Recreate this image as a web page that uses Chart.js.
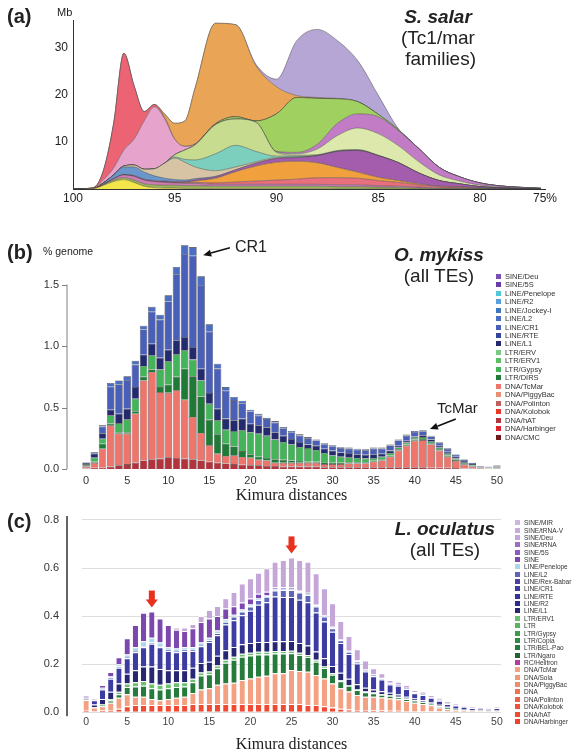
<!DOCTYPE html>
<html>
<head>
<meta charset="utf-8">
<script src="https://cdn.jsdelivr.net/npm/chart.js"></script>
<style>
  body { margin: 0; background: #fff; font-family: 'Liberation Sans', Arial, sans-serif; color: #222; }
  #page { position: relative; width: 575px; height: 754px; overflow: hidden; }
  canvas { position: absolute; left: 0; }
  .t { position: absolute; white-space: nowrap; line-height: 1; }
  .lab { font-weight: bold; font-size: 20px; }
  .sp { position: absolute; width: 160px; text-align: center; font-size: 19px; line-height: 21px; }
  .sp b { font-style: italic; }
  .leg { position: absolute; color: #333; }
  .leg div { display: flex; align-items: center; white-space: nowrap; }
  .leg span { display: inline-block; flex: none; margin-right: 4px; }
</style>
</head>
<body>
<div id="page">
  <canvas id="ca" width="575" height="205" style="top:0"></canvas>
  <canvas id="cb" width="575" height="300" style="top:205px"></canvas>
  <canvas id="cc" width="575" height="249" style="top:505px"></canvas>

  <div class="t lab" style="left:7px;top:6px">(a)</div>
  <div class="t" style="left:57px;top:7px;font-size:11px">Mb</div>
  <div class="sp" style="left:358px;top:6px"><b>S. salar</b><br>(Tc1/mar<br>&nbsp;families)</div>

  <div class="t lab" style="left:7px;top:242px">(b)</div>
  <div class="t" style="left:43px;top:246px;font-size:10.5px">% genome</div>
  <div class="t" style="left:235px;top:239px;font-size:16px">CR1</div>
  <div class="t" style="left:437px;top:400px;font-size:15px">TcMar</div>
  <div class="sp" style="left:359px;top:244px"><b>O. mykiss</b><br>(all TEs)</div>
  <div class="leg" id="legb" style="left:496px;top:272px"></div>

  <div class="t lab" style="left:7px;top:511px">(c)</div>
  <div class="sp" style="left:365px;top:518px"><b>L. oculatus</b><br>(all TEs)</div>
  <div class="leg" id="legc" style="left:515px;top:519px"></div>
</div>

<script>
Chart.defaults.font.family = "'Liberation Sans', Arial, sans-serif";

// ---- panel (a): S. salar Tc1/mar families, stacked landscape (Mb) ----
const aDist = [100, 99, 98.5, 98, 97.5, 97, 96.5, 96, 95.5, 95, 94.5, 94, 93, 92, 91, 90, 89, 88, 87, 86, 85, 84, 83, 82, 81, 80, 79, 78, 77];
const aTicks = [100, 95, 90, 85, 80, 76.8];
const aTickLabels = ['100', '95', '90', '85', '80', '75%'];

const aYellow  = [0, 0.1, 0.8, 1.6, 2, 1.4, 0.6, 0.3, 0.2, 0.2, 0.1, 0.1, 0.1, 0.1, 0.1, 0.1, 0.1, 0.1, 0, 0, 0, 0, 0, 0, 0, 0, 0, 0, 0];
const aOlive   = [0, 0, 0.1, 0.3, 0.4, 0.5, 0.5, 0.6, 0.6, 0.6, 0.6, 0.6, 0.5, 0.5, 0.5, 0.5, 0.5, 0.5, 0.5, 0.5, 0.4, 0.3, 0.2, 0.1, 0.1, 0.1, 0, 0, 0];
const aRose    = [0, 0, 0.1, 0.3, 0.6, 0.8, 0.8, 0.7, 0.6, 0.5, 0.5, 0.5, 0.4, 0.4, 0.4, 0.4, 0.4, 0.4, 0.4, 0.4, 0.3, 0.3, 0.2, 0.1, 0.1, 0, 0, 0, 0];
const aSalmon  = [0, 0, 0, 0, 0, 0, 0, 0, 0.1, 0.1, 0.1, 0.2, 0.3, 0.5, 0.7, 0.9, 1.1, 1.4, 1.5, 1.4, 1.1, 0.8, 0.5, 0.3, 0.2, 0.1, 0.05, 0, 0];
const aOrangeS = [0, 0, 0, 0, 0, 0, 0, 0, 0, 0, 0.1, 0.3, 1, 2.2, 3.2, 3.8, 3.8, 3.2, 2.2, 1.3, 0.7, 0.4, 0.2, 0.1, 0.1, 0, 0, 0, 0];
const aDkMag   = [0, 0, 0, 0, 0.1, 0.2, 0.2, 0.2, 0.2, 0.2, 0.2, 0.3, 0.3, 0.4, 0.6, 0.8, 0.8, 1.5, 3.4, 4.6, 4.6, 3.8, 2.3, 1.2, 0.6, 0.3, 0.2, 0.1, 0.05];
const aBlue    = [0, 0, 0.3, 0.8, 1.6, 1.8, 1.5, 1, 0.6, 0.4, 0.3, 0.2, 0.1, 0, 0, 0, 0, 0, 0, 0, 0, 0, 0, 0, 0, 0, 0, 0, 0];
const aBeige   = [0, 0, 0, 0, 0.2, 0.4, 0.6, 1.5, 3.2, 4.6, 3.8, 2.5, 1.2, 0.6, 0.3, 0.2, 0.1, 0, 0, 0, 0, 0, 0, 0, 0, 0, 0, 0, 0];
const aTeal    = [0, 0, 0, 0, 0, 0, 0, 0, 0, 0.2, 0.6, 1.5, 3.6, 4.6, 2.2, 0.3, 0.2, 0.1, 0.1, 0.1, 0, 0, 0, 0, 0, 0, 0, 0, 0];
const aKhaki   = [0, 0, 0, 0, 0, 0, 0, 0, 0, 0.5, 2, 3.2, 6.2, 5.6, 6.2, 0.8, 0.2, 0.1, 0.1, 0.1, 0.1, 0, 0, 0, 0, 0, 0, 0, 0];
const aPale    = [0, 0, 0, 0, 0, 0, 0, 0, 0, 0, 0, 0, 0, 0, 0, 0.1, 0.3, 1.2, 3.2, 4.6, 4.6, 3.6, 2.4, 1.2, 0.6, 0.3, 0.15, 0.1, 0];
const aLtMag   = [0, 0, 0, 0, 0, 0, 0, 0, 0, 0, 0, 0, 0, 0, 0, 0.1, 0.3, 1, 2.6, 3, 3.6, 3.2, 2.8, 1.6, 0.9, 0.5, 0.25, 0.15, 0.1];
const aGreen   = [0, 0, 0, 0, 0, 0, 0, 0, 0, 0, 0, 0, 0.2, 0.5, 0.3, 8, 11.7, 9.8, 5.2, 2.6, 0.5, 0.2, 0, 0, 0, 0, 0, 0, 0];
const aPink    = [0, 0, 0.7, 1.5, 3.4, 5.5, 10.3, 13.2, 9.5, 3.3, 0.8, 0.2, 0, 0, 0, 0, 0, 0, 0, 0, 0, 0, 0, 0, 0, 0, 0, 0, 0];
const aRed     = [0, 0.2, 2, 9.5, 20.6, 11.4, 2, 0.5, 0.3, 0, 0, 0, 0, 0, 0, 0, 0, 0, 0, 0, 0, 0, 0, 0, 0, 0, 0, 0, 0];
const aOrange  = [0, 0, 0, 0, 0, 0, 0, 0, 0.7, 3.4, 5.4, 11.9, 21.4, 19.6, 11.7, 5.8, 0.4, 0.2, 0.1, 0, 0, 0, 0, 0, 0, 0, 0, 0, 0];
const aPurple  = [0, 0, 0, 0, 0, 0, 0, 0, 0, 0, 0, 0, 0, 0, 0.3, 1.6, 11.7, 14.5, 12.3, 8.7, 4.1, 0.2, 0, 0, 0, 0, 0, 0, 0];

const aLayers = [
  [aYellow, '#f2e64a'], [aOlive, '#9cb45a'], [aRose, '#d07cb4'], [aSalmon, '#e8707c'],
  [aOrangeS, '#f0a03c'], [aDkMag, '#a45cac'], [aBlue, '#6a96cc'], [aBeige, '#d6c4a4'],
  [aTeal, '#7ccfbc'], [aKhaki, '#c8dc90'], [aPale, '#dce8ac'], [aLtMag, '#c27cc6'],
  [aGreen, '#a0d060'], [aPink, '#e6a4cc'], [aRed, '#ec6474'], [aOrange, '#e9a456'], [aPurple, '#b6a6d6']
];

// ---- panel (b): O. mykiss, % genome per Kimura distance ----
const bDist = [0,1,2,3,4,5,6,7,8,9,10,11,12,13,14,15,16,17,18,19,20,21,22,23,24,25,26,27,28,29,30,31,32,33,34,35,36,37,38,39,40,41,42,43,44,45,46,47,48,49,50];
const bHat   = [.005,.01,.01,.02,.03,.04,.05,.07,.08,.085,.095,.09,.085,.08,.07,.06,.05,.045,.04,.035,.03,.03,.025,.025,.02,.02,.02,.02,.02,.015,.015,.015,.015,.015,.015,.015,.015,.015,.015,.015,.015,.015,.01,.01,.01,.008,.005,.004,.003,.002,.002];
const bTcMar = [.015,.04,.155,.335,.257,.247,.40,.65,.71,.541,.525,.55,.479,.343,.223,.133,.075,.061,.071,.063,.062,.046,.045,.025,.03,.03,.03,.03,.03,.025,.025,.025,.03,.03,.03,.045,.055,.085,.135,.175,.215,.22,.19,.14,.09,.057,.03,.016,.005,.003,.003];
const bDirs  = [.01,.01,.041,.015,.013,.013,.02,.03,.02,.041,.066,.11,.252,.331,.297,.207,.157,.10,.073,.048,.028,.024,.02,.03,.025,.02,.015,.01,.01,.015,.01,.01,.01,.01,.01,.01,.01,.01,.01,.01,.01,.01,.01,.01,.01,.01,.005,.005,.002,.002,.003];
const bGypsy = [.01,.032,.041,.067,.074,.104,.102,.088,.115,.143,.19,.183,.15,.136,.13,.13,.114,.114,.125,.169,.18,.187,.18,.16,.145,.13,.115,.11,.095,.075,.06,.05,.04,.035,.03,.02,.02,.02,.015,.015,.015,.015,.015,.015,.015,.01,.01,.005,.003,.003,.004];
const bL1    = [.01,.033,.043,.046,.076,.086,.095,.092,.095,.095,.094,.114,.108,.103,.096,.088,.094,.09,.087,.095,.069,.068,.07,.06,.05,.045,.04,.03,.035,.035,.04,.035,.035,.03,.03,.03,.025,.02,.015,.015,.01,.015,.015,.015,.015,.015,.015,.01,.007,.005,.008];
const bCR1   = [.004,.011,.055,.187,.24,.234,.183,.206,.26,.311,.393,.537,.676,.743,.682,.499,.327,.227,.165,.126,.099,.08,.066,.078,.062,.055,.052,.05,.042,.037,.035,.037,.036,.037,.037,.046,.041,.042,.042,.042,.037,.033,.025,.025,.023,.016,.012,.008,.004,.004,.008];
const bL2    = [0,0,.01,.03,.03,.03,.03,.03,.04,.04,.05,.06,.07,.07,.07,.06,.04,.03,.025,.02,.015,.015,.012,.012,.01,.01,.01,.01,.008,.008,.008,.008,.008,.008,.008,.008,.008,.008,.008,.008,.008,.007,.005,.005,.005,.004,.003,.002,.001,.001,.002];

// stack order, bottom first
const bClasses = [
  ['DNA/CMC', '#6e1a1e', []], ['DNA/Harbinger', '#e0202a', []], ['DNA/hAT', '#b4323c', bHat],
  ['DNA/Kolobok', '#e8382a', []], ['DNA/Polinton', '#c0605a', []], ['DNA/PiggyBac', '#e89070', []],
  ['DNA/TcMar', '#ee756b', bTcMar], ['LTR/DIRS', '#1e7a36', bDirs], ['LTR/Gypsy', '#44b45a', bGypsy],
  ['LTR/ERV1', '#5ac064', []], ['LTR/ERV', '#7cc886', []], ['LINE/L1', '#232b6e', bL1],
  ['LINE/RTE', '#32469c', []], ['LINE/CR1', '#4a5fb8', bCR1], ['LINE/L2', '#4c6ec2', bL2],
  ['LINE/Jockey-I', '#3c78c0', []], ['LINE/R2', '#5aa0dc', []], ['LINE/Penelope', '#50c8d8', []],
  ['SINE/5S', '#6a3ca8', []], ['SINE/Deu', '#7850b4', []]
];

// ---- panel (c): L. oculatus ----
const cDist = bDist;
const cHat      = [.01,.005,.008,.01,.015,.025,.03,.03,.03,.03,.03,.03,.03,.035,.035,.035,.035,.035,.035,.035,.035,.035,.035,.035,.035,.035,.035,.03,.03,.025,.02,.015,.012,.01,.01,.008,.008,.006,.006,.005,.005,.004,.004,.003,.003,.002,.002,.002,.002,.002,.002];
const cTcMar    = [.041,.015,.017,.03,.045,.05,.035,.035,.025,.02,.025,.03,.035,.045,.06,.065,.08,.085,.088,.099,.106,.113,.117,.127,.127,.141,.137,.139,.125,.116,.10,.085,.074,.062,.055,.057,.054,.051,.048,.042,.035,.031,.025,.017,.011,.008,.006,.004,.003,.002,.002];
const cBelPao   = [.002,.002,.006,.009,.015,.03,.042,.045,.045,.045,.045,.045,.042,.045,.058,.058,.068,.086,.096,.097,.095,.092,.088,.083,.083,.07,.066,.061,.055,.043,.036,.029,.024,.021,.018,.014,.011,.012,.009,.008,.009,.007,.006,.005,.005,.003,.002,.002,.002,.002,.002];
const cErv1     = [0,0,.004,.006,.01,.015,.018,.02,.02,.02,.02,.02,.018,.015,.012,.012,.012,.012,.012,.012,.012,.012,.012,.01,.01,.01,.01,.008,.008,.006,.006,.005,.004,.004,.003,.003,.003,.003,.002,.002,.002,.002,.002,.002,.001,.001,0,0,0,0,0];
const cL1       = [.004,.01,.02,.03,.035,.04,.05,.06,.07,.065,.055,.05,.05,.045,.04,.04,.04,.04,.04,.04,.04,.04,.04,.04,.04,.04,.04,.04,.035,.035,.03,.03,.025,.02,.016,.013,.012,.009,.009,.008,.006,.006,.005,.004,.003,.003,.003,.002,.002,.002,.002];
const cCR1      = [.008,.018,.04,.055,.065,.065,.075,.08,.095,.09,.08,.075,.08,.07,.07,.082,.085,.107,.112,.121,.134,.155,.166,.186,.184,.183,.18,.18,.162,.153,.143,.124,.103,.086,.068,.055,.048,.035,.036,.032,.022,.022,.018,.017,.012,.011,.01,.008,.005,.005,.01];
const cL2       = [0,0,.005,.005,.005,.005,.005,.005,.005,.005,.005,.005,.005,.005,.005,.008,.01,.012,.015,.015,.018,.02,.022,.025,.03,.03,.03,.03,.025,.02,.015,.012,.01,.008,.006,.005,.005,.004,.004,.003,.003,.003,.002,.002,.002,.002,.001,.001,.001,.001,.001];
const cPenelope = [0,0,.002,.004,.01,.01,.015,.02,.02,.015,.01,.01,.01,.01,.01,.01,.01,.01,.008,.008,.008,.006,.006,.005,.005,.005,.005,.005,.005,.004,.004,.003,.003,.003,.002,.002,.002,.002,.001,.001,.001,.001,.001,.001,0,0,0,0,0,0,0];
const cSine     = [.004,.005,.012,.019,.029,.068,.093,.119,.109,.10,.093,.078,.068,.08,.085,.08,.06,.045,.035,.03,.025,.02,.015,.008,.006,.005,.005,.004,.004,.003,.003,.002,.002,.001,.001,.001,.001,.001,.001,.001,.001,.001,.001,.001,.001,0,0,0,0,0,0];
const cDeu      = [0,0,0,0,0,0,0,0,0,0,0,.01,.015,.017,.025,.035,.042,.042,.059,.079,.084,.087,.098,.107,.113,.125,.125,.129,.129,.111,.096,.075,.06,.047,.036,.025,.018,.011,.011,.012,.009,.009,.008,.008,.007,.005,.004,.003,.003,.002,.003];
const cPeaks = [8, 25];

const cClasses = [
  ['DNA/Harbinger', '#f04028', []], ['DNA/hAT', '#f04a32', cHat], ['DNA/Kolobok', '#f05038', []],
  ['DNA/Polinton', '#f06048', []], ['DNA', '#f07050', []], ['DNA/PiggyBac', '#f08c6c', []],
  ['DNA/Sola', '#f09878', []], ['DNA/TcMar', '#f3a182', cTcMar], ['RC/Helitron', '#b43ca0', []],
  ['LTR/Ngaro', '#1e6432', []], ['LTR/BEL-Pao', '#267a3c', cBelPao], ['LTR/Copia', '#2c8c44', []],
  ['LTR/Gypsy', '#3c9c4c', []], ['LTR', '#58b460', []], ['LTR/ERV1', '#6cc070', cErv1],
  ['LINE/L1', '#262672', cL1], ['LINE/R2', '#2c2c8c', []], ['LINE/RTE', '#34349a', []],
  ['LINE/CR1', '#3c3ca2', cCR1], ['LINE/Rex-Babar', '#4c40a8', []], ['LINE/L2', '#5e64b8', cL2],
  ['LINE/Penelope', '#a8d8ec', cPenelope], ['SINE', '#7c48b0', cSine], ['SINE/5S', '#8c5cc0', []],
  ['SINE/tRNA', '#9c6cc0', []], ['SINE/Deu', '#c4a6d8', cDeu], ['SINE/tRNA-V', '#c8aadc', []],
  ['SINE/MIR', '#ccb6de', []]
];

// ---- helpers ----
const sideAxis = {
  id: 'sideAxis',
  afterDraw(chart, args, o) {
    const y = chart.scales.y, ctx = chart.ctx;
    const x = chart.chartArea.left - o.gap;
    ctx.save();
    ctx.strokeStyle = o.color;
    ctx.lineWidth = o.width;
    ctx.beginPath();
    ctx.moveTo(x, y.getPixelForValue(o.from) + o.ext);
    ctx.lineTo(x, y.getPixelForValue(o.to) - o.ext);
    if (o.tick) {
      y.ticks.forEach(t => {
        if (t.value > o.to) return;
        const py = Math.round(y.getPixelForValue(t.value)) + 0.5;
        ctx.moveTo(x, py);
        ctx.lineTo(x - o.tick, py);
      });
    }
    ctx.stroke();
    ctx.restore();
  }
};

const pointers = {
  id: 'pointers',
  afterDatasetsDraw(chart, args, o) {
    const {x, y} = chart.scales, ctx = chart.ctx;
    ctx.save();
    ctx.strokeStyle = '#111';
    ctx.fillStyle = '#111';
    ctx.lineWidth = 1.6;
    o.items.forEach(a => {
      const x1 = x.getPixelForValue(a.from[0]), y1 = y.getPixelForValue(a.from[1]);
      const x2 = x.getPixelForValue(a.to[0]), y2 = y.getPixelForValue(a.to[1]);
      const ang = Math.atan2(y2 - y1, x2 - x1);
      const hx = x2 - 8 * Math.cos(ang), hy = y2 - 8 * Math.sin(ang);
      ctx.beginPath();
      ctx.moveTo(x1, y1);
      ctx.lineTo(hx, hy);
      ctx.stroke();
      ctx.beginPath();
      ctx.moveTo(x2, y2);
      ctx.lineTo(hx + 3.5 * Math.sin(ang), hy - 3.5 * Math.cos(ang));
      ctx.lineTo(hx - 3.5 * Math.sin(ang), hy + 3.5 * Math.cos(ang));
      ctx.closePath();
      ctx.fill();
    });
    ctx.restore();
  }
};

const peakArrows = {
  id: 'peakArrows',
  afterDatasetsDraw(chart, args, o) {
    const {x, y} = chart.scales, ctx = chart.ctx;
    ctx.save();
    ctx.fillStyle = '#e8321e';
    o.bars.forEach(i => {
      const total = chart.data.datasets.reduce((s, ds) => s + (ds.data[i] || 0), 0);
      const cx = x.getPixelForValue(i);
      const tip = y.getPixelForValue(total) - 4;
      ctx.fillRect(cx - 3, tip - 17, 6, 10);
      ctx.beginPath();
      ctx.moveTo(cx - 6, tip - 8);
      ctx.lineTo(cx + 6, tip - 8);
      ctx.lineTo(cx, tip);
      ctx.closePath();
      ctx.fill();
    });
    ctx.restore();
  }
};

function buildLegend(id, chart, rowH, box, size) {
  const el = document.getElementById(id);
  chart.data.datasets.slice().reverse().forEach(ds => {
    const row = document.createElement('div');
    row.style.height = rowH + 'px';
    row.style.fontSize = size + 'px';
    const sw = document.createElement('span');
    sw.style.width = box + 'px';
    sw.style.height = box + 'px';
    sw.style.background = ds.backgroundColor;
    row.appendChild(sw);
    row.appendChild(document.createTextNode(ds.label));
    el.appendChild(row);
  });
}

// fixed-width left axis; labels are pushed left with tick padding, so drop the extra vertical padding it adds
function leftAxisFit(s) {
  s.width = 82;
  s.paddingTop = 0;
  s.paddingBottom = 0;
}

// ---- chart (a) ----
new Chart(document.getElementById('ca'), {
  type: 'line',
  data: {
    datasets: aLayers.map((l, k) => ({
      label: 'family ' + (k + 1),
      data: aDist.map((d, i) => ({x: d, y: l[0][i]})),
      backgroundColor: l[1],
      borderColor: 'rgba(70,70,70,0.7)',
      borderWidth: 0.7,
      fill: k === 0 ? 'origin' : '-1',
      pointRadius: 0,
      cubicInterpolationMode: 'monotone'
    }))
  },
  options: {
    responsive: false,
    animation: false,
    layout: {padding: {top: 20, right: 30, left: 0, bottom: 0}},
    plugins: {legend: {display: false}, tooltip: {enabled: false}},
    scales: {
      x: {
        type: 'linear', reverse: true, min: 76.8, max: 100,
        afterBuildTicks: s => { s.ticks = aTicks.map(v => ({value: v})); },
        ticks: {autoSkip: false, maxRotation: 0, padding: 2, color: '#222', font: {size: 12},
                callback: v => aTickLabels[aTicks.indexOf(v)]},
        grid: {display: false, drawTicks: false},
        border: {display: true, color: '#333', width: 1},
        afterFit: s => { s.height = 16; }
      },
      y: {
        stacked: true, min: 0, max: 36,
        ticks: {stepSize: 10, padding: 5, color: '#222', font: {size: 12},
                callback: v => (v > 0 && v % 10 === 0 ? v : '')},
        grid: {display: false, drawTicks: false},
        border: {display: true, color: '#333', width: 1},
        afterFit: s => { s.width = 73; }
      }
    }
  }
});

// ---- chart (b) ----
const chartB = new Chart(document.getElementById('cb'), {
  type: 'bar',
  data: {
    labels: bDist,
    datasets: bClasses.map(c => ({
      label: c[0], data: c[2], backgroundColor: c[1],
      borderColor: '#3c3c3c', borderWidth: 0.6,
      barPercentage: 0.92, categoryPercentage: 1
    }))
  },
  plugins: [sideAxis, pointers],
  options: {
    responsive: false,
    animation: false,
    layout: {padding: {top: 30.5, right: 74, left: 0, bottom: 0}},
    plugins: {
      legend: {display: false}, tooltip: {enabled: false},
      sideAxis: {gap: 15, from: 0, to: 1.5, ext: 0, color: '#808080', width: 1, tick: 5},
      pointers: {items: [{from: [17.5, 1.80], to: [14.25, 1.74]}, {from: [45.0, 0.407], to: [41.85, 0.325]}]}
    },
    scales: {
      x: {
        stacked: true,
        grid: {display: false, drawTicks: false},
        border: {display: false},
        ticks: {autoSkip: false, maxRotation: 0, padding: 5, color: '#333', font: {size: 11},
                callback: (v, i) => (i % 5 === 0 ? bDist[i] : '')},
        title: {display: true, text: 'Kimura distances', color: '#222', padding: 0,
                font: {family: "'Liberation Serif', 'Times New Roman', serif", size: 16}},
        afterFit: s => { s.height = 36; }
      },
      y: {
        stacked: true, min: 0, max: 1.9,
        ticks: {stepSize: 0.5, padding: 23, color: '#333', font: {size: 11},
                callback: v => (v <= 1.5 ? v.toFixed(1) : '')},
        grid: {display: false, drawTicks: false},
        border: {display: false},
        afterFit: leftAxisFit
      }
    }
  }
});
buildLegend('legb', chartB, 8.48, 5, 7.5);

// ---- chart (c) ----
const chartC = new Chart(document.getElementById('cc'), {
  type: 'bar',
  data: {
    labels: cDist,
    datasets: cClasses.map(c => ({
      label: c[0], data: c[2], backgroundColor: c[1],
      borderColor: '#ffffff', borderWidth: {top: 1, left: 0, right: 0, bottom: 0},
      borderSkipped: false,
      barPercentage: 0.64, categoryPercentage: 1
    }))
  },
  plugins: [sideAxis, peakArrows],
  options: {
    responsive: false,
    animation: false,
    layout: {padding: {top: 14.9, right: 74, left: 0, bottom: 0}},
    plugins: {
      legend: {display: false}, tooltip: {enabled: false},
      sideAxis: {gap: 15, from: 0, to: 0.8, ext: 4, color: '#555', width: 1.8, tick: 0},
      peakArrows: {bars: cPeaks}
    },
    scales: {
      x: {
        stacked: true,
        grid: {display: false, drawTicks: false},
        border: {display: false},
        ticks: {autoSkip: false, maxRotation: 0, padding: 4, color: '#444', font: {size: 10.5},
                callback: (v, i) => (i % 5 === 0 ? cDist[i] : '')},
        title: {display: true, text: 'Kimura distances', color: '#222', padding: 0,
                font: {family: "'Liberation Serif', 'Times New Roman', serif", size: 16}},
        afterFit: s => { s.height = 41.7; }
      },
      y: {
        stacked: true, min: 0, max: 0.8,
        ticks: {stepSize: 0.2, padding: 23, color: '#333', font: {size: 11},
                callback: v => v.toFixed(1)},
        grid: {color: '#dedede', lineWidth: 1, drawTicks: false},
        border: {display: false},
        afterFit: leftAxisFit
      }
    }
  }
});
buildLegend('legc', chartC, 7.36, 5, 6.5);
</script>
</body>
</html>
